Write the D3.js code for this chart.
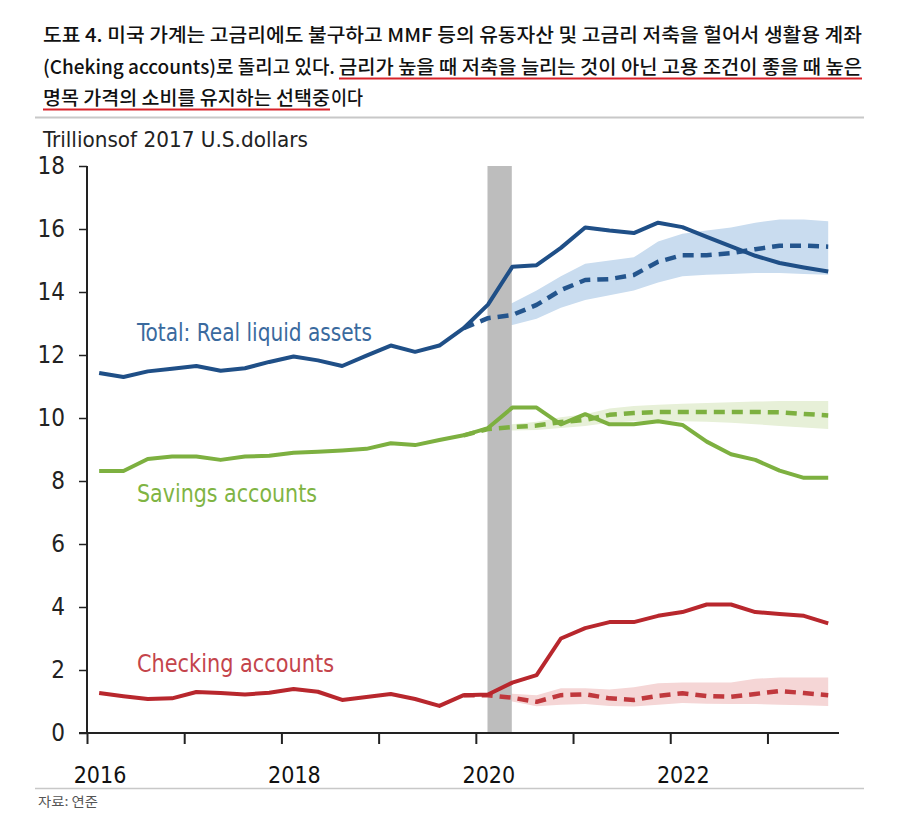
<!DOCTYPE html>
<html>
<head>
<meta charset="utf-8">
<script src="https://cdn.jsdelivr.net/npm/d3@7"></script>
<style>
  html, body { margin: 0; padding: 0; background: #fff; }
  svg { display: block; }
</style>
</head>
<body>
<svg id="chart" width="900" height="834"></svg>
<script>
// ---------------- DATA ----------------
const quarters = ["2016Q1","2016Q2","2016Q3","2016Q4","2017Q1","2017Q2","2017Q3","2017Q4",
  "2018Q1","2018Q2","2018Q3","2018Q4","2019Q1","2019Q2","2019Q3","2019Q4",
  "2020Q1","2020Q2","2020Q3","2020Q4","2021Q1","2021Q2","2021Q3","2021Q4",
  "2022Q1","2022Q2","2022Q3","2022Q4","2023Q1","2023Q2","2023Q3"];

const totalActual = [11.43, 11.3, 11.48, 11.56, 11.65, 11.5, 11.58, 11.78, 11.95, 11.83, 11.65, 11.98,
  12.3, 12.1, 12.3, 12.85, 13.6, 14.8, 14.85, 15.4, 16.05, 15.95, 15.87, 16.2,
  16.06, 15.75, 15.45, 15.15, 14.92, 14.78, 14.65];
const savingsActual = [8.32, 8.32, 8.7, 8.78, 8.78, 8.67, 8.78, 8.8, 8.9, 8.93, 8.97, 9.02,
  9.2, 9.14, 9.3, 9.45, 9.68, 10.33, 10.33, 9.8, 10.12, 9.8, 9.8, 9.9,
  9.78, 9.25, 8.85, 8.67, 8.33, 8.1, 8.1];
const checkingActual = [1.27, 1.17, 1.08, 1.1, 1.3, 1.27, 1.22, 1.28, 1.4, 1.31, 1.05, 1.14,
  1.24, 1.08, 0.86, 1.2, 1.22, 1.6, 1.84, 3.0, 3.33, 3.52, 3.52, 3.72,
  3.84, 4.08, 4.08, 3.84, 3.78, 3.72, 3.48];

const N = null;
const totalForecast = [N,N,N,N,N,N,N,N,N,N,N,N,N,N,N, 12.85,
  13.17, 13.27, 13.59, 14.06, 14.38, 14.41, 14.54, 14.96, 15.17, 15.17, 15.23, 15.36, 15.47, 15.47, 15.44];
const totalLow  = [N,N,N,N,N,N,N,N,N,N,N,N,N,N,N,N,
  13.0, 12.95, 13.15, 13.5, 13.75, 13.9, 14.05, 14.3, 14.5, 14.55, 14.57, 14.6, 14.6, 14.57, 14.55];
const totalHigh = [N,N,N,N,N,N,N,N,N,N,N,N,N,N,N,N,
  13.35, 13.65, 14.05, 14.5, 14.9, 15.0, 15.1, 15.6, 15.85, 15.95, 16.05, 16.2, 16.3, 16.3, 16.25];

const savingsForecast = [N,N,N,N,N,N,N,N,N,N,N,N,N,N,N, 9.45,
  9.65, 9.71, 9.76, 9.87, 9.94, 10.1, 10.16, 10.19, 10.19, 10.19, 10.19, 10.19, 10.18, 10.13, 10.08];
const savingsLow  = [N,N,N,N,N,N,N,N,N,N,N,N,N,N,N,N,
  9.58, 9.6, 9.62, 9.68, 9.75, 9.85, 9.9, 9.9, 9.9, 9.88, 9.85, 9.8, 9.75, 9.7, 9.65];
const savingsHigh = [N,N,N,N,N,N,N,N,N,N,N,N,N,N,N,N,
  9.72, 9.8, 9.88, 10.02, 10.12, 10.3, 10.38, 10.42, 10.45, 10.48, 10.5, 10.52, 10.54, 10.54, 10.54];

const checkingForecast = [N,N,N,N,N,N,N,N,N,N,N,N,N,N,N, 1.2,
  1.2, 1.12, 0.99, 1.2, 1.23, 1.1, 1.05, 1.18, 1.26, 1.17, 1.15, 1.24, 1.33, 1.27, 1.2];
const checkingLow  = [N,N,N,N,N,N,N,N,N,N,N,N,N,N,N,N,
  1.1, 1.0, 0.85, 0.9, 0.92, 0.86, 0.84, 0.9, 0.95, 0.93, 0.92, 0.92, 0.9, 0.88, 0.86];
const checkingHigh = [N,N,N,N,N,N,N,N,N,N,N,N,N,N,N,N,
  1.28, 1.25, 1.2, 1.42, 1.42, 1.38, 1.45, 1.58, 1.6, 1.6, 1.6, 1.72, 1.76, 1.76, 1.76];

const recession = [2020.12, 2020.37];
const yTicks = [0, 2, 4, 6, 8, 10, 12, 14, 16, 18];
const xTicks = [2016, 2017, 2018, 2019, 2020, 2021, 2022, 2023];
const xLabels = ["2016", "2018", "2020", "2022"];

const titleLines = [
  "도표 4. 미국 가계는 고금리에도 불구하고 MMF 등의 유동자산 및 고금리 저축을 헐어서 생활용 계좌",
  "(Cheking accounts)로 돌리고 있다. ",
  "금리가 높을 때 저축을 늘리는 것이 아닌 고용 조건이 좋을 때 높은",
  "명목 가격의 소비를 유지하는 선택중",
  "이다"
];
const yAxisTitle = "Trillionsof 2017 U.S.dollars";
const seriesLabels = ["Total: Real liquid assets", "Savings accounts", "Checking accounts"];
const sourceText = "자료: 연준";

// ---------------- DRAW ----------------
const svg = d3.select("#chart");
const narrow = "'Liberation Sans Narrow', 'DejaVu Sans Condensed', 'Liberation Sans', Arial, sans-serif";
const kfont = "'Noto Sans CJK KR', 'Noto Sans', sans-serif";

const qToYear = q => +q.slice(0, 4) + (+q.slice(5) - 1) * 0.25 + 0.125;

const x = d3.scaleLinear().domain([2016, 2023.736]).range([87, 839]);
const y = d3.scaleLinear().domain([0, 18]).range([733, 166]);

// Title
const t1 = svg.append("g").attr("font-family", kfont).attr("font-size", 19).attr("font-weight", 500).attr("fill", "#111");
t1.append("text").attr("x", 43).attr("y", 42).attr("textLength", 819).attr("lengthAdjust", "spacingAndGlyphs").text(titleLines[0]);
t1.append("text").attr("x", 43).attr("y", 74).attr("textLength", 292).attr("lengthAdjust", "spacingAndGlyphs").text(titleLines[1]);
t1.append("text").attr("x", 339).attr("y", 74).attr("textLength", 523).attr("lengthAdjust", "spacingAndGlyphs").text(titleLines[2]);
t1.append("text").attr("x", 43).attr("y", 105).attr("textLength", 287).attr("lengthAdjust", "spacingAndGlyphs").text(titleLines[3]);
t1.append("text").attr("x", 331).attr("y", 105).attr("textLength", 32).attr("lengthAdjust", "spacingAndGlyphs").text(titleLines[4]);
svg.append("line").attr("x1", 339).attr("x2", 862).attr("y1", 78.5).attr("y2", 78.5).attr("stroke", "#d8232a").attr("stroke-width", 2);
svg.append("line").attr("x1", 43).attr("x2", 330).attr("y1", 109.5).attr("y2", 109.5).attr("stroke", "#d8232a").attr("stroke-width", 2);
svg.append("line").attr("x1", 35).attr("x2", 864).attr("y1", 117.5).attr("y2", 117.5).attr("stroke", "#c8c8c8").attr("stroke-width", 2);

// Y-axis title
svg.append("text").attr("x", 43).attr("y", 147).attr("font-family", narrow).attr("font-size", 22)
  .attr("fill", "#222").attr("textLength", 265).attr("lengthAdjust", "spacingAndGlyphs").text(yAxisTitle);

// Bands
const bandGen = (lo, hi) => d3.area()
  .defined((d, i) => lo[i] != null && hi[i] != null)
  .x((d, i) => x(qToYear(quarters[i])))
  .y0((d, i) => y(lo[i]))
  .y1((d, i) => y(hi[i]));
const bands = [
  [totalLow, totalHigh, "#c9dcef"],
  [savingsLow, savingsHigh, "#e7f0d8"],
  [checkingLow, checkingHigh, "#f5d6d6"]
];
bands.forEach(([lo, hi, c]) => {
  svg.append("path").datum(quarters).attr("d", bandGen(lo, hi)).attr("fill", c);
});

// Recession bar
svg.append("rect").attr("x", x(recession[0])).attr("y", y(18))
  .attr("width", x(recession[1]) - x(recession[0])).attr("height", y(0) - y(18))
  .attr("fill", "#bdbdbd");

// Lines
const lineGen = vals => d3.line()
  .defined((d, i) => vals[i] != null)
  .x((d, i) => x(qToYear(quarters[i])))
  .y((d, i) => y(vals[i]));

const series = [
  [totalForecast, "#24558d", true],
  [savingsForecast, "#7db040", true],
  [checkingForecast, "#c0383d", true],
  [totalActual, "#1f4f87", false],
  [savingsActual, "#7db040", false],
  [checkingActual, "#b8272d", false]
];
series.forEach(([vals, c, dashed]) => {
  svg.append("path").datum(quarters).attr("d", lineGen(vals))
    .attr("fill", "none").attr("stroke", c)
    .attr("stroke-width", dashed ? 4.5 : 4)
    .attr("stroke-linejoin", "round")
    .attr("stroke-dasharray", dashed ? "11,7" : null);
});

// Axes
const gy = svg.append("g").attr("transform", `translate(${x(2016)},0)`)
  .call(d3.axisLeft(y).tickValues(yTicks).tickSize(8).tickPadding(14).tickFormat(d3.format("d")));
gy.select(".domain").attr("stroke", "#222").attr("stroke-width", 2).attr("d", `M0,${y(18)}V${y(0)}`);
gy.selectAll(".tick line").attr("stroke", "#222").attr("stroke-width", 1.5);
gy.selectAll(".tick text").attr("font-family", narrow).attr("font-size", 24).attr("fill", "#222");

const gx = svg.append("g").attr("transform", `translate(0,${y(0)})`)
  .call(d3.axisBottom(x).tickValues(xTicks).tickSize(11).tickFormat(""));
gx.select(".domain").attr("stroke", "#222").attr("stroke-width", 2).attr("d", `M${x(2016) - 8},0H839`);
gx.selectAll(".tick line").attr("stroke", "#222").attr("stroke-width", 2);

svg.append("g").selectAll("text").data(xLabels).join("text")
  .attr("x", d => x(+d) + 13).attr("y", 783)
  .attr("text-anchor", "middle").attr("font-family", narrow).attr("font-size", 23)
  .attr("fill", "#111").text(d => d);

// Series labels
const labelPos = [[137, 341, 235, "#3a6a9e"], [137, 502, 180, "#7fb443"], [137, 672, 197, "#c4444b"]];
seriesLabels.forEach((s, i) => {
  const [lx, ly, lw, lc] = labelPos[i];
  svg.append("text").attr("x", lx).attr("y", ly).attr("font-family", narrow).attr("font-size", 24)
    .attr("fill", lc).attr("textLength", lw).attr("lengthAdjust", "spacingAndGlyphs").text(s);
});

// Source
svg.append("line").attr("x1", 35).attr("x2", 864).attr("y1", 788.5).attr("y2", 788.5).attr("stroke", "#c8c8c8").attr("stroke-width", 1.5);
svg.append("text").attr("x", 38).attr("y", 806).attr("font-family", kfont).attr("font-size", 13)
  .attr("fill", "#555").attr("textLength", 60).attr("lengthAdjust", "spacingAndGlyphs").text(sourceText);
</script>
</body>
</html>
